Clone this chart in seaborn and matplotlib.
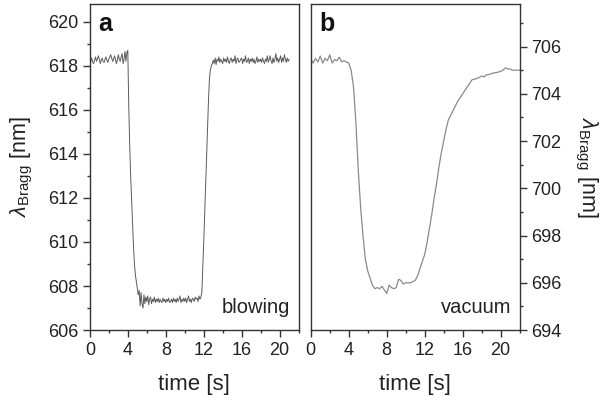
import numpy as np
import pandas as pd
import seaborn as sns
import matplotlib.pyplot as plt
from matplotlib.ticker import MultipleLocator

# panel a: blowing, sampled every 0.1 s (0 .. 21 s)
time_a = np.round(np.arange(0, 21.001, 0.1), 2)
bragg_a = [
    618.3, 618.2, 618.35, 618.15, 618.1, 618.25, 618.4, 618.2, 618.3, 618.45,
    618.3, 618.1, 618.25, 618.35, 618.2, 618.15, 618.3, 618.4, 618.25, 618.15,
    618.3, 618.4, 618.5, 618.35, 618.2, 618.3, 618.45, 618.3, 618.1, 618.25,
    618.5, 618.3, 618.2, 618.4, 618.55, 618.1, 618.3, 618.65, 618.2, 618.6,
    618.7, 616.2, 614.4, 613.0, 611.9, 610.8, 609.8, 609.0, 608.5, 608.2,
    607.9, 607.6, 607.8, 607.1, 607.7, 607.2, 607.0, 607.6, 607.2, 607.5,
    607.3, 607.55, 607.15, 607.4, 607.5, 607.2, 607.4, 607.3, 607.5, 607.25,
    607.4, 607.3, 607.45, 607.25, 607.4, 607.3, 607.25, 607.45, 607.3, 607.4,
    607.25, 607.4, 607.3, 607.45, 607.25, 607.3, 607.4, 607.25, 607.45, 607.3,
    607.4, 607.25, 607.45, 607.3, 607.4, 607.55, 607.25, 607.4, 607.3, 607.45,
    607.3, 607.45, 607.25, 607.4, 607.55, 607.3, 607.4, 607.25, 607.45, 607.4,
    607.3, 607.5, 607.4, 607.45, 607.3, 607.55, 607.4, 607.5, 607.7, 608.8,
    610.0, 611.3, 612.6, 613.9, 615.2, 616.4, 617.4, 617.8, 618.0, 618.1,
    618.25, 618.1, 618.35, 618.05, 618.3, 618.2, 618.4, 618.15, 618.3, 618.2,
    618.1, 618.35, 618.2, 618.3, 618.15, 618.4, 618.2, 618.1, 618.3, 618.35,
    618.15, 618.3, 618.2, 618.45, 618.1, 618.3, 618.35, 618.15, 618.2, 618.3,
    618.35, 618.1, 618.3, 618.2, 618.45, 618.15, 618.2, 618.35, 618.1, 618.3,
    618.2, 618.35, 618.15, 618.3, 618.1, 618.2, 618.4, 618.15, 618.3, 618.2,
    618.3, 618.15, 618.35, 618.2, 618.1, 618.3, 618.2, 618.45, 618.15, 618.3,
    618.45, 618.2, 618.1, 618.35, 618.15, 618.3, 618.55, 618.2, 618.35, 618.15,
    618.3, 618.45, 618.15, 618.35, 618.2, 618.5, 618.3, 618.15, 618.35, 618.2,
    618.3,
]

# panel b: vacuum, sampled every 0.25 s (0 .. 22 s)
time_b = np.round(np.arange(0, 22.001, 0.25), 2)
bragg_b = [
    705.5, 705.3, 705.5, 705.35,
    705.6, 705.3, 705.5, 705.4,
    705.65, 705.3, 705.45, 705.4,
    705.55, 705.35, 705.4, 705.35,
    705.3, 705.0, 704.3, 702.8,
    700.8, 699.2, 698.0, 697.0,
    696.5, 696.2, 695.9, 695.75,
    695.8, 695.75, 695.85, 695.7,
    695.55, 695.9, 695.8, 695.75,
    695.8, 696.15, 696.1, 695.95,
    696.0, 696.0, 696.0, 696.05,
    696.1, 696.3, 696.6, 696.9,
    697.2, 697.7, 698.3, 698.9,
    699.6, 700.2, 700.9, 701.5,
    702.0, 702.5, 702.9, 703.1,
    703.3, 703.5, 703.7, 703.85,
    704.0, 704.15, 704.3, 704.45,
    704.6, 704.62, 704.65, 704.7,
    704.75, 704.72, 704.8, 704.82,
    704.85, 704.88, 704.9, 704.92,
    704.95, 705.0, 705.1, 705.05,
    705.05, 705.0, 705.0, 705.0,
    705.0,
]

df_a = pd.DataFrame({'time': time_a, 'bragg': bragg_a})
df_b = pd.DataFrame({'time': time_b, 'bragg': bragg_b})

sns.set_theme(style="ticks")
plt.rcParams['font.family'] = ['Liberation Sans', 'DejaVu Sans']
plt.rcParams['mathtext.fontset'] = 'custom'
plt.rcParams['mathtext.rm'] = 'Liberation Sans'
plt.rcParams['mathtext.it'] = 'Liberation Sans:italic'
plt.rcParams['axes.edgecolor'] = '#333333'
plt.rcParams['axes.linewidth'] = 1.0

fig = plt.figure(figsize=(6.07, 4.05), dpi=100)
ax_a = fig.add_axes([0.148, 0.185, 0.344, 0.805])
ax_b = fig.add_axes([0.512, 0.185, 0.344, 0.805])

sns.lineplot(data=df_a, x='time', y='bragg', ax=ax_a, color='#5a5a5a', linewidth=0.7)
sns.lineplot(data=df_b, x='time', y='bragg', ax=ax_b, color='#8a8a8a', linewidth=0.9)

ylabel = r'$\lambda_{\mathrm{Bragg}}$ [nm]'

for ax in (ax_a, ax_b):
    ax.set_xlim(0, 22)
    ax.xaxis.set_major_locator(MultipleLocator(4))
    ax.xaxis.set_minor_locator(MultipleLocator(2))
    ax.yaxis.set_major_locator(MultipleLocator(2))
    ax.yaxis.set_minor_locator(MultipleLocator(1))
    ax.tick_params(which='major', direction='out', length=5, width=1,
                   labelsize=13, colors='#333333', labelcolor='#222222')
    ax.tick_params(which='minor', direction='out', length=2.5, width=1, colors='#333333')
    ax.set_xlabel('time [s]', fontsize=16, color='#222222', labelpad=11)
    for sp in ax.spines.values():
        sp.set_visible(True)

ax_a.set_ylim(606, 620.8)
ax_a.set_ylabel(ylabel, fontsize=15.5, color='#222222', labelpad=9)
ax_a.text(0.04, 0.975, 'a', transform=ax_a.transAxes, fontsize=18,
          fontweight='bold', va='top', ha='left', color='#111111')
ax_a.text(0.96, 0.04, 'blowing', transform=ax_a.transAxes, fontsize=14.5,
          va='bottom', ha='right', color='#222222')

ax_b.set_ylim(694, 707.8)
ax_b.yaxis.tick_right()
ax_b.yaxis.set_label_position('right')
ax_b.tick_params(axis='y', which='both', left=False, right=True)
ax_b.set_ylabel(ylabel, fontsize=15.5, color='#222222', rotation=-90, labelpad=27)
ax_b.text(0.04, 0.975, 'b', transform=ax_b.transAxes, fontsize=18,
          fontweight='bold', va='top', ha='left', color='#111111')
ax_b.text(0.96, 0.04, 'vacuum', transform=ax_b.transAxes, fontsize=14.5,
          va='bottom', ha='right', color='#222222')

fig.savefig('out.png', dpi=100)
